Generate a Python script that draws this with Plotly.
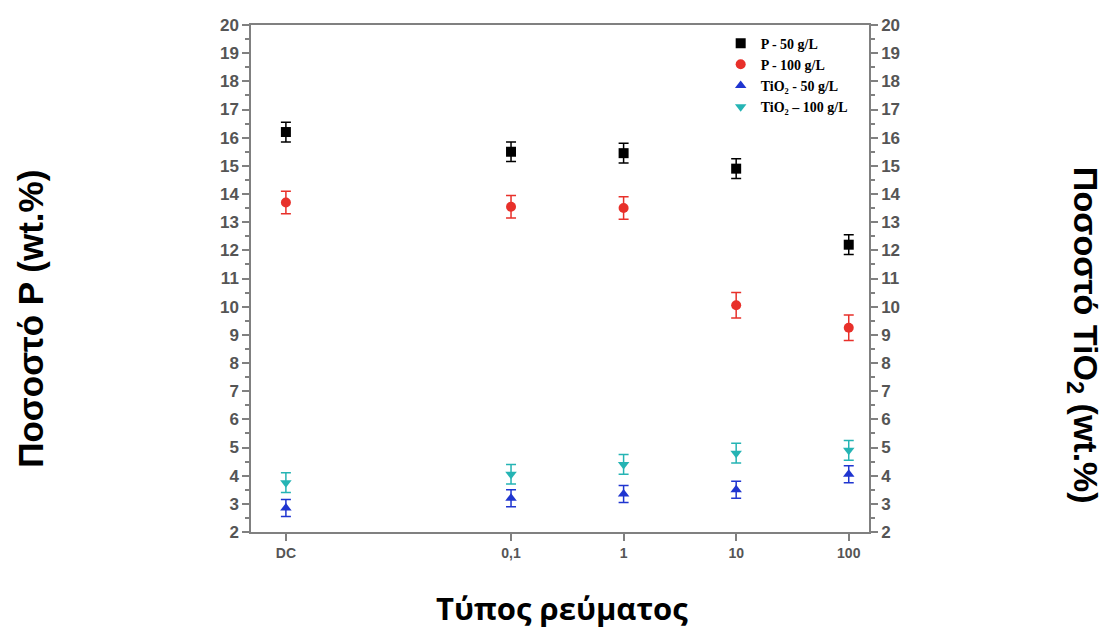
import plotly.graph_objects as go

# Categories (current type) and their placement on the log-scaled x axis
categories = ["DC", "0,1", "1", "10", "100"]
freq = [0.001, 0.1, 1, 10, 100]  # DC drawn two decades left of 0,1

p_50 = [16.2, 15.5, 15.45, 14.9, 12.2]
p_50_err = [0.35, 0.35, 0.35, 0.35, 0.35]
p_100 = [13.7, 13.55, 13.5, 10.05, 9.25]
p_100_err = [0.4, 0.4, 0.4, 0.45, 0.45]
tio2_50 = [2.85, 3.2, 3.35, 3.5, 4.05]
tio2_50_err = [0.3, 0.3, 0.3, 0.3, 0.3]
tio2_100 = [3.75, 4.05, 4.4, 4.8, 4.9]
tio2_100_err = [0.35, 0.35, 0.35, 0.35, 0.35]

series = [
    ("P - 50 g/L", p_50, p_50_err, "black", "square", "y"),
    ("P - 100 g/L", p_100, p_100_err, "#e8302a", "circle", "y"),
    ("TiO₂ - 50 g/L", tio2_50, tio2_50_err, "#1f35d0", "triangle-up", "y2"),
    ("TiO₂ – 100 g/L", tio2_100, tio2_100_err, "#25b4b4", "triangle-down", "y2"),
]

fig = go.Figure()
for name, vals, err, col, sym, ax in series:
    fig.add_trace(go.Scatter(
        x=freq, y=vals, mode="markers", name=name, yaxis=ax,
        marker=dict(color=col, symbol=sym, size=10),
        error_y=dict(type="data", array=err, color=col, thickness=1.5, width=5),
    ))

axis_col = "#808080"
tick_font = dict(family="Arial", size=17, color="#555555", weight="bold")
yaxis_common = dict(
    range=[2, 20], dtick=1, tick0=2, showgrid=False, zeroline=False,
    showline=True, linecolor=axis_col, linewidth=1.5,
    ticks="outside", ticklen=7, tickcolor=axis_col, tickwidth=1.5,
    minor=dict(dtick=0.5, ticks="outside", ticklen=4, tickcolor=axis_col),
    tickfont=tick_font,
)

fig.update_layout(
    width=1107, height=630,
    margin=dict(l=251, r=238, t=25, b=98),
    paper_bgcolor="white", plot_bgcolor="white",
    showlegend=True,
    legend=dict(x=0.76, y=0.995, xanchor="left", yanchor="top",
                font=dict(family="Liberation Serif", size=14, color="black", weight="bold"),
                bgcolor="rgba(0,0,0,0)", tracegroupgap=0, itemwidth=30),
    xaxis=dict(
        type="log", range=[-3.31, 2.18],
        tickvals=freq, ticktext=categories,
        showgrid=False, zeroline=False, showline=True, mirror=True,
        linecolor=axis_col, linewidth=1.5,
        ticks="outside", ticklen=7, tickcolor=axis_col, tickwidth=1.5,
        tickfont=dict(family="Arial", size=14, color="#555555", weight="bold"),
    ),
    yaxis=dict(**yaxis_common, mirror=False),
    yaxis2=dict(**yaxis_common, overlaying="y", side="right"),
    annotations=[
        dict(text="<b>Ποσοστό P (wt.%)</b>", xref="paper", yref="paper",
             x=-0.358, y=0.42, xanchor="center", yanchor="middle",
             textangle=-90, showarrow=False,
             font=dict(family="Arial", size=35, color="black")),
        dict(text="<b>Ποσοστό TiO<sub>2</sub> (wt.%)</b>", xref="paper", yref="paper",
             x=1.347, y=0.388, xanchor="center", yanchor="middle",
             textangle=90, showarrow=False,
             font=dict(family="Arial", size=34, color="black")),
        dict(text="<b>Τύπος ρεύματος</b>", xref="paper", yref="paper",
             x=0.503, y=-0.15, xanchor="center", yanchor="middle", showarrow=False,
             font=dict(family="Open Sans", size=31, color="black")),
    ],
)

fig.write_html("out.html")
